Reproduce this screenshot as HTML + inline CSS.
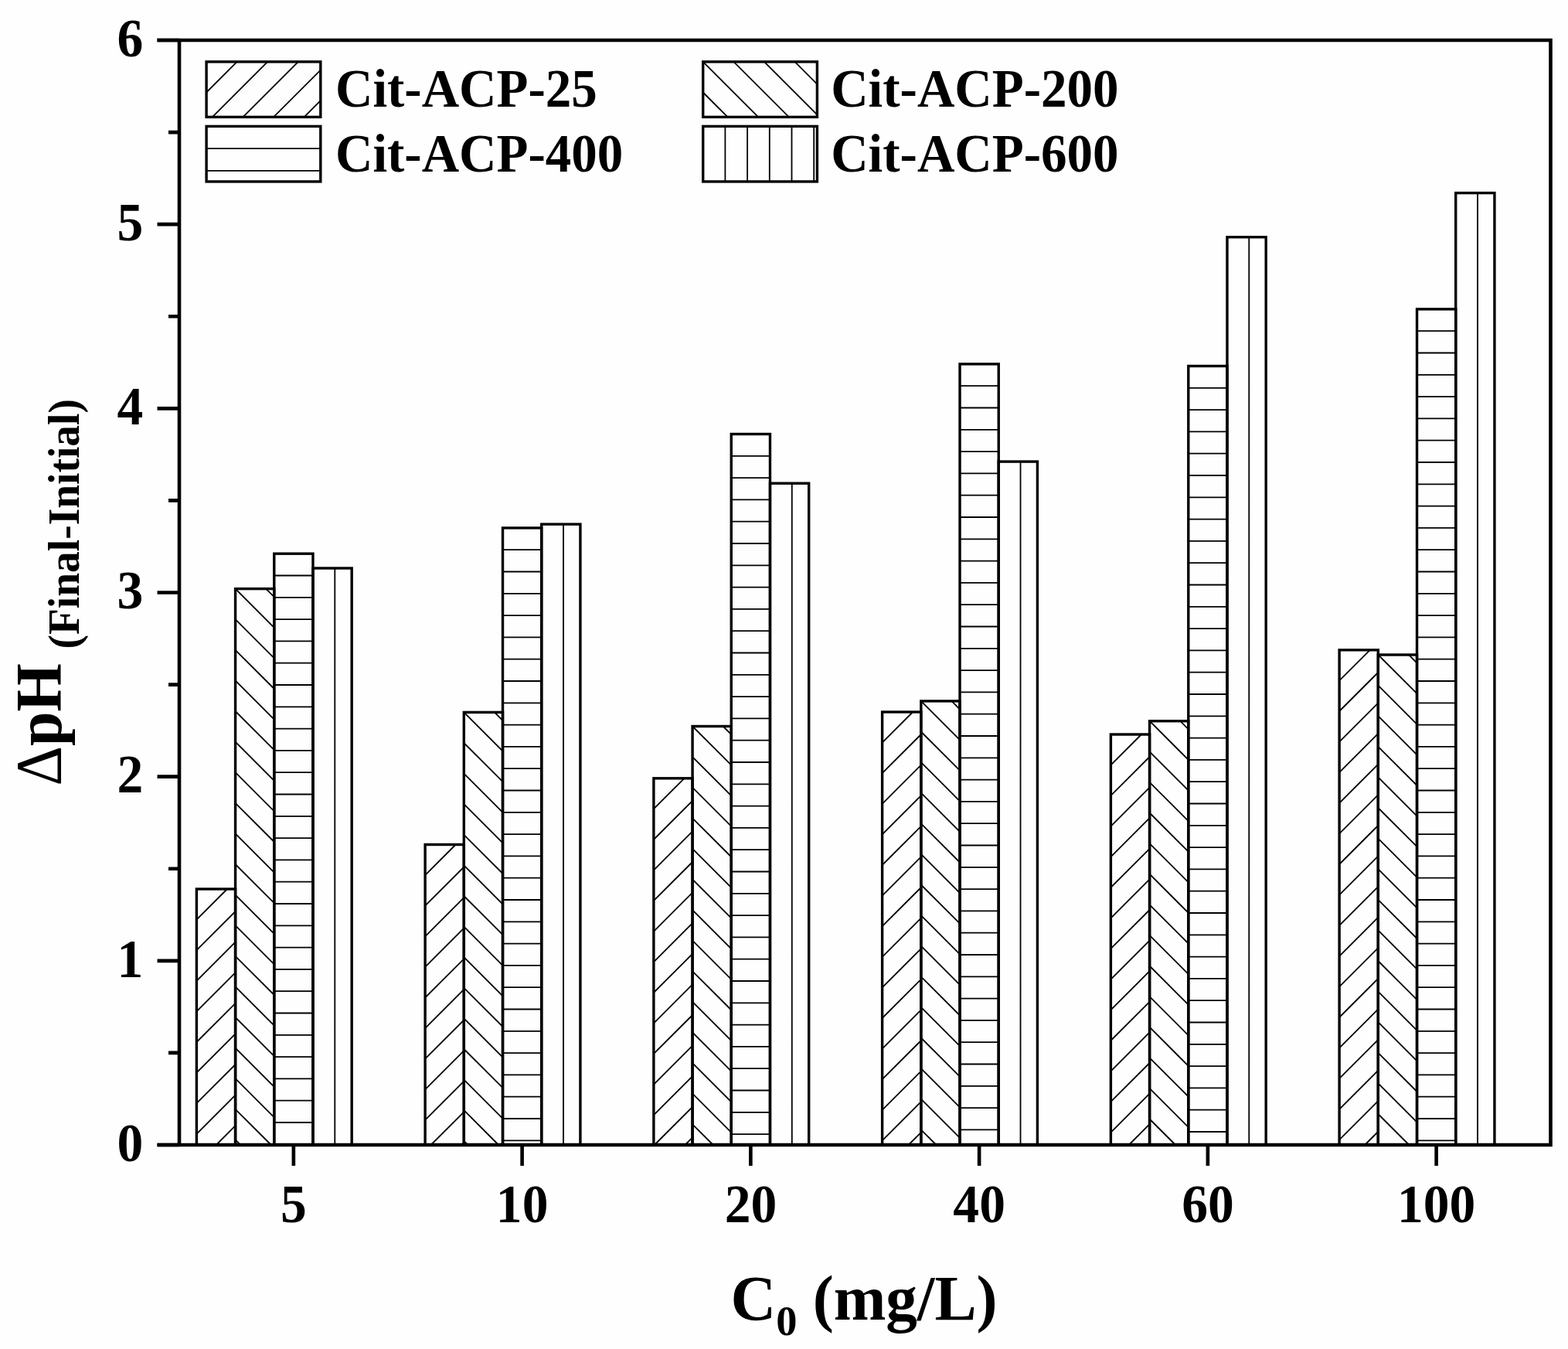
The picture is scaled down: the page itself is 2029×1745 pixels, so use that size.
<!DOCTYPE html>
<html><head><meta charset="utf-8"><title>Delta pH bar chart</title>
<style>html,body{margin:0;padding:0;background:#fff;}svg{display:block;}</style>
</head><body>
<svg width="2029" height="1745" viewBox="0 0 2029 1745">
<rect width="2029" height="1745" fill="#fefefe"/>
<g fill="none" stroke="#000" stroke-width="1.8" stroke-linecap="butt">
<path d="M254.38 1189.6L293.97 1150M254.38 1229.2L304.57 1179M254.38 1268.8L304.57 1218.6M254.38 1308.4L304.57 1258.2M254.38 1348L304.57 1297.8M254.38 1387.6L304.57 1337.4M254.38 1427.2L304.57 1377M254.38 1466.8L304.57 1416.6M279.78 1481L304.57 1456.2M344.18 761.6L354.77 772.2M304.57 761.6L354.77 811.8M304.57 801.2L354.77 851.4M304.57 840.8L354.77 891M304.57 880.4L354.77 930.6M304.57 920L354.77 970.2M304.57 959.6L354.77 1009.8M304.57 999.2L354.77 1049.4M304.57 1038.8L354.77 1089M304.57 1078.4L354.77 1128.6M304.57 1118L354.77 1168.2M304.57 1157.6L354.77 1207.8M304.57 1197.2L354.77 1247.4M304.57 1236.8L354.77 1287M304.57 1276.4L354.77 1326.6M304.57 1316L354.77 1366.2M304.57 1355.6L354.77 1405.8M304.57 1395.2L354.77 1445.4M304.57 1434.8L350.77 1481M304.57 1474.4L311.17 1481M354.77 744.5L404.97 744.5M354.77 772.8L404.97 772.8M354.77 801.1L404.97 801.1M354.77 829.4L404.97 829.4M354.77 857.7L404.97 857.7M354.77 886L404.97 886M354.77 914.3L404.97 914.3M354.77 942.6L404.97 942.6M354.77 970.9L404.97 970.9M354.77 999.2L404.97 999.2M354.77 1027.5L404.97 1027.5M354.77 1055.8L404.97 1055.8M354.77 1084.1L404.97 1084.1M354.77 1112.4L404.97 1112.4M354.77 1140.7L404.97 1140.7M354.77 1169L404.97 1169M354.77 1197.3L404.97 1197.3M354.77 1225.6L404.97 1225.6M354.77 1253.9L404.97 1253.9M354.77 1282.2L404.97 1282.2M354.77 1310.5L404.97 1310.5M354.77 1338.8L404.97 1338.8M354.77 1367.1L404.97 1367.1M354.77 1395.4L404.97 1395.4M354.77 1423.7L404.97 1423.7M354.77 1452L404.97 1452M433.28 735L433.28 1481M550.12 1132.1L589.72 1092.5M550.12 1171.7L600.33 1121.5M550.12 1211.3L600.33 1161.1M550.12 1250.9L600.33 1200.7M550.12 1290.5L600.33 1240.3M550.12 1330.1L600.33 1279.9M550.12 1369.7L600.33 1319.5M550.12 1409.3L600.33 1359.1M550.12 1448.9L600.33 1398.7M557.62 1481L600.33 1438.3M597.22 1481L600.33 1477.9M639.93 921.4L650.53 932M600.33 921.4L650.53 971.6M600.33 961L650.53 1011.2M600.33 1000.6L650.53 1050.8M600.33 1040.2L650.53 1090.4M600.33 1079.8L650.53 1130M600.33 1119.4L650.53 1169.6M600.33 1159L650.53 1209.2M600.33 1198.6L650.53 1248.8M600.33 1238.2L650.53 1288.4M600.33 1277.8L650.53 1328M600.33 1317.4L650.53 1367.6M600.33 1357L650.53 1407.2M600.33 1396.6L650.53 1446.8M600.33 1436.2L645.12 1481M600.33 1475.8L605.53 1481M650.52 711.2L700.73 711.2M650.52 739.5L700.73 739.5M650.52 767.8L700.73 767.8M650.52 796.1L700.73 796.1M650.52 824.4L700.73 824.4M650.52 852.7L700.73 852.7M650.52 881L700.73 881M650.52 909.3L700.73 909.3M650.52 937.6L700.73 937.6M650.52 965.9L700.73 965.9M650.52 994.2L700.73 994.2M650.52 1022.5L700.73 1022.5M650.52 1050.8L700.73 1050.8M650.52 1079.1L700.73 1079.1M650.52 1107.4L700.73 1107.4M650.52 1135.7L700.73 1135.7M650.52 1164L700.73 1164M650.52 1192.3L700.73 1192.3M650.52 1220.6L700.73 1220.6M650.52 1248.9L700.73 1248.9M650.52 1277.2L700.73 1277.2M650.52 1305.5L700.73 1305.5M650.52 1333.8L700.73 1333.8M650.52 1362.1L700.73 1362.1M650.52 1390.4L700.73 1390.4M650.52 1418.7L700.73 1418.7M650.52 1447L700.73 1447M650.52 1475.3L700.73 1475.3M729.02 678.1L729.02 1481M845.88 1046.4L885.47 1006.8M845.88 1086L896.08 1035.8M845.88 1125.6L896.08 1075.4M845.88 1165.2L896.08 1115M845.88 1204.8L896.08 1154.6M845.88 1244.4L896.08 1194.2M845.88 1284L896.08 1233.8M845.88 1323.6L896.08 1273.4M845.88 1363.2L896.08 1313M845.88 1402.8L896.08 1352.6M845.88 1442.4L896.08 1392.2M846.88 1481L896.08 1431.8M886.47 1481L896.08 1471.4M935.68 939.5L946.28 950.1M896.08 939.5L946.28 989.7M896.08 979.1L946.28 1029.3M896.08 1018.7L946.28 1068.9M896.08 1058.3L946.28 1108.5M896.08 1097.9L946.28 1148.1M896.08 1137.5L946.28 1187.7M896.08 1177.1L946.28 1227.3M896.08 1216.7L946.28 1266.9M896.08 1256.3L946.28 1306.5M896.08 1295.9L946.28 1346.1M896.08 1335.5L946.28 1385.7M896.08 1375.1L946.28 1425.3M896.08 1414.7L946.28 1464.9M896.08 1454.3L922.77 1481M946.27 589.8L996.48 589.8M946.27 618.1L996.48 618.1M946.27 646.4L996.48 646.4M946.27 674.7L996.48 674.7M946.27 703L996.48 703M946.27 731.3L996.48 731.3M946.27 759.6L996.48 759.6M946.27 787.9L996.48 787.9M946.27 816.2L996.48 816.2M946.27 844.5L996.48 844.5M946.27 872.8L996.48 872.8M946.27 901.1L996.48 901.1M946.27 929.4L996.48 929.4M946.27 957.7L996.48 957.7M946.27 986L996.48 986M946.27 1014.3L996.48 1014.3M946.27 1042.6L996.48 1042.6M946.27 1070.9L996.48 1070.9M946.27 1099.2L996.48 1099.2M946.27 1127.5L996.48 1127.5M946.27 1155.8L996.48 1155.8M946.27 1184.1L996.48 1184.1M946.27 1212.4L996.48 1212.4M946.27 1240.7L996.48 1240.7M946.27 1269L996.48 1269M946.27 1297.3L996.48 1297.3M946.27 1325.6L996.48 1325.6M946.27 1353.9L996.48 1353.9M946.27 1382.2L996.48 1382.2M946.27 1410.5L996.48 1410.5M946.27 1438.8L996.48 1438.8M946.27 1467.1L996.48 1467.1M1024.78 625.2L1024.78 1481M1141.62 960.6L1181.22 921M1141.62 1000.2L1191.83 950M1141.62 1039.8L1191.83 989.6M1141.62 1079.4L1191.83 1029.2M1141.62 1119L1191.83 1068.8M1141.62 1158.6L1191.83 1108.4M1141.62 1198.2L1191.83 1148M1141.62 1237.8L1191.83 1187.6M1141.62 1277.4L1191.83 1227.2M1141.62 1317L1191.83 1266.8M1141.62 1356.6L1191.83 1306.4M1141.62 1396.2L1191.83 1346M1141.62 1435.8L1191.83 1385.6M1141.62 1475.4L1191.83 1425.2M1175.62 1481L1191.83 1464.8M1231.43 906.9L1242.03 917.5M1191.83 906.9L1242.03 957.1M1191.83 946.5L1242.03 996.7M1191.83 986.1L1242.03 1036.3M1191.83 1025.7L1242.03 1075.9M1191.83 1065.3L1242.03 1115.5M1191.83 1104.9L1242.03 1155.1M1191.83 1144.5L1242.03 1194.7M1191.83 1184.1L1242.03 1234.3M1191.83 1223.7L1242.03 1273.9M1191.83 1263.3L1242.03 1313.5M1191.83 1302.9L1242.03 1353.1M1191.83 1342.5L1242.03 1392.7M1191.83 1382.1L1242.03 1432.3M1191.83 1421.7L1242.03 1471.9M1191.83 1461.3L1211.53 1481M1242.03 499.2L1292.23 499.2M1242.03 527.5L1292.23 527.5M1242.03 555.8L1292.23 555.8M1242.03 584.1L1292.23 584.1M1242.03 612.4L1292.23 612.4M1242.03 640.7L1292.23 640.7M1242.03 669L1292.23 669M1242.03 697.3L1292.23 697.3M1242.03 725.6L1292.23 725.6M1242.03 753.9L1292.23 753.9M1242.03 782.2L1292.23 782.2M1242.03 810.5L1292.23 810.5M1242.03 838.8L1292.23 838.8M1242.03 867.1L1292.23 867.1M1242.03 895.4L1292.23 895.4M1242.03 923.7L1292.23 923.7M1242.03 952L1292.23 952M1242.03 980.3L1292.23 980.3M1242.03 1008.6L1292.23 1008.6M1242.03 1036.9L1292.23 1036.9M1242.03 1065.2L1292.23 1065.2M1242.03 1093.5L1292.23 1093.5M1242.03 1121.8L1292.23 1121.8M1242.03 1150.1L1292.23 1150.1M1242.03 1178.4L1292.23 1178.4M1242.03 1206.7L1292.23 1206.7M1242.03 1235L1292.23 1235M1242.03 1263.3L1292.23 1263.3M1242.03 1291.6L1292.23 1291.6M1242.03 1319.9L1292.23 1319.9M1242.03 1348.2L1292.23 1348.2M1242.03 1376.5L1292.23 1376.5M1242.03 1404.8L1292.23 1404.8M1242.03 1433.1L1292.23 1433.1M1242.03 1461.4L1292.23 1461.4M1320.52 597.1L1320.52 1481M1437.38 989.6L1476.97 950M1437.38 1029.2L1487.58 979M1437.38 1068.8L1487.58 1018.6M1437.38 1108.4L1487.58 1058.2M1437.38 1148L1487.58 1097.8M1437.38 1187.6L1487.58 1137.4M1437.38 1227.2L1487.58 1177M1437.38 1266.8L1487.58 1216.6M1437.38 1306.4L1487.58 1256.2M1437.38 1346L1487.58 1295.8M1437.38 1385.6L1487.58 1335.4M1437.38 1425.2L1487.58 1375M1437.38 1464.8L1487.58 1414.6M1460.78 1481L1487.58 1454.2M1527.18 932.7L1537.78 943.3M1487.58 932.7L1537.78 982.9M1487.58 972.3L1537.78 1022.5M1487.58 1011.9L1537.78 1062.1M1487.58 1051.5L1537.78 1101.7M1487.58 1091.1L1537.78 1141.3M1487.58 1130.7L1537.78 1180.9M1487.58 1170.3L1537.78 1220.5M1487.58 1209.9L1537.78 1260.1M1487.58 1249.5L1537.78 1299.7M1487.58 1289.1L1537.78 1339.3M1487.58 1328.7L1537.78 1378.9M1487.58 1368.3L1537.78 1418.5M1487.58 1407.9L1537.78 1458.1M1487.58 1447.5L1521.07 1481M1537.78 501.8L1587.98 501.8M1537.78 530.1L1587.98 530.1M1537.78 558.4L1587.98 558.4M1537.78 586.7L1587.98 586.7M1537.78 615L1587.98 615M1537.78 643.3L1587.98 643.3M1537.78 671.6L1587.98 671.6M1537.78 699.9L1587.98 699.9M1537.78 728.2L1587.98 728.2M1537.78 756.5L1587.98 756.5M1537.78 784.8L1587.98 784.8M1537.78 813.1L1587.98 813.1M1537.78 841.4L1587.98 841.4M1537.78 869.7L1587.98 869.7M1537.78 898L1587.98 898M1537.78 926.3L1587.98 926.3M1537.78 954.6L1587.98 954.6M1537.78 982.9L1587.98 982.9M1537.78 1011.2L1587.98 1011.2M1537.78 1039.5L1587.98 1039.5M1537.78 1067.8L1587.98 1067.8M1537.78 1096.1L1587.98 1096.1M1537.78 1124.4L1587.98 1124.4M1537.78 1152.7L1587.98 1152.7M1537.78 1181L1587.98 1181M1537.78 1209.3L1587.98 1209.3M1537.78 1237.6L1587.98 1237.6M1537.78 1265.9L1587.98 1265.9M1537.78 1294.2L1587.98 1294.2M1537.78 1322.5L1587.98 1322.5M1537.78 1350.8L1587.98 1350.8M1537.78 1379.1L1587.98 1379.1M1537.78 1407.4L1587.98 1407.4M1537.78 1435.7L1587.98 1435.7M1537.78 1464L1587.98 1464M1616.27 306.7L1616.27 1481M1733.12 880.4L1772.73 840.8M1733.12 920L1783.33 869.8M1733.12 959.6L1783.33 909.4M1733.12 999.2L1783.33 949M1733.12 1038.8L1783.33 988.6M1733.12 1078.4L1783.33 1028.2M1733.12 1118L1783.33 1067.8M1733.12 1157.6L1783.33 1107.4M1733.12 1197.2L1783.33 1147M1733.12 1236.8L1783.33 1186.6M1733.12 1276.4L1783.33 1226.2M1733.12 1316L1783.33 1265.8M1733.12 1355.6L1783.33 1305.4M1733.12 1395.2L1783.33 1345M1733.12 1434.8L1783.33 1384.6M1733.12 1474.4L1783.33 1424.2M1766.12 1481L1783.33 1463.8M1822.93 847L1833.53 857.6M1783.33 847L1833.53 897.2M1783.33 886.6L1833.53 936.8M1783.33 926.2L1833.53 976.4M1783.33 965.8L1833.53 1016M1783.33 1005.4L1833.53 1055.6M1783.33 1045L1833.53 1095.2M1783.33 1084.6L1833.53 1134.8M1783.33 1124.2L1833.53 1174.4M1783.33 1163.8L1833.53 1214M1783.33 1203.4L1833.53 1253.6M1783.33 1243L1833.53 1293.2M1783.33 1282.6L1833.53 1332.8M1783.33 1322.2L1833.53 1372.4M1783.33 1361.8L1833.53 1412M1783.33 1401.4L1833.53 1451.6M1783.33 1441L1823.33 1481M1833.53 428.2L1883.73 428.2M1833.53 456.5L1883.73 456.5M1833.53 484.8L1883.73 484.8M1833.53 513.1L1883.73 513.1M1833.53 541.4L1883.73 541.4M1833.53 569.7L1883.73 569.7M1833.53 598L1883.73 598M1833.53 626.3L1883.73 626.3M1833.53 654.6L1883.73 654.6M1833.53 682.9L1883.73 682.9M1833.53 711.2L1883.73 711.2M1833.53 739.5L1883.73 739.5M1833.53 767.8L1883.73 767.8M1833.53 796.1L1883.73 796.1M1833.53 824.4L1883.73 824.4M1833.53 852.7L1883.73 852.7M1833.53 881L1883.73 881M1833.53 909.3L1883.73 909.3M1833.53 937.6L1883.73 937.6M1833.53 965.9L1883.73 965.9M1833.53 994.2L1883.73 994.2M1833.53 1022.5L1883.73 1022.5M1833.53 1050.8L1883.73 1050.8M1833.53 1079.1L1883.73 1079.1M1833.53 1107.4L1883.73 1107.4M1833.53 1135.7L1883.73 1135.7M1833.53 1164L1883.73 1164M1833.53 1192.3L1883.73 1192.3M1833.53 1220.6L1883.73 1220.6M1833.53 1248.9L1883.73 1248.9M1833.53 1277.2L1883.73 1277.2M1833.53 1305.5L1883.73 1305.5M1833.53 1333.8L1883.73 1333.8M1833.53 1362.1L1883.73 1362.1M1833.53 1390.4L1883.73 1390.4M1833.53 1418.7L1883.73 1418.7M1833.53 1447L1883.73 1447M1833.53 1475.3L1883.73 1475.3M1912.02 249.6L1912.02 1481M267.1 119.5L306.7 79.9M274.8 151.4L346.3 79.9M314.4 151.4L385.9 79.9M354 151.4L414.8 90.6M393.6 151.4L414.8 130.2M1028.5 79.9L1057.4 108.8M988.9 79.9L1057.4 148.4M949.3 79.9L1020.8 151.4M909.7 79.9L981.2 151.4M909.7 119.5L941.6 151.4M267.1 192.1L414.8 192.1M267.1 220.8L414.8 220.8M938.4 163.4L938.4 234.9M967.1 163.4L967.1 234.9M995.8 163.4L995.8 234.9M1024.5 163.4L1024.5 234.9M1053.2 163.4L1053.2 234.9"/>
</g>
<g fill="none" stroke="#000" stroke-width="3.4" stroke-linejoin="miter">
<rect x="254.38" y="1150" width="50.2" height="331"/><rect x="304.57" y="761.6" width="50.2" height="719.4"/><rect x="354.77" y="716.2" width="50.2" height="764.8"/><rect x="404.98" y="735" width="50.2" height="746"/><rect x="550.12" y="1092.5" width="50.2" height="388.5"/><rect x="600.33" y="921.4" width="50.2" height="559.6"/><rect x="650.52" y="682.9" width="50.2" height="798.1"/><rect x="700.73" y="678.1" width="50.2" height="802.9"/><rect x="845.88" y="1006.8" width="50.2" height="474.2"/><rect x="896.08" y="939.5" width="50.2" height="541.5"/><rect x="946.27" y="561.5" width="50.2" height="919.5"/><rect x="996.48" y="625.2" width="50.2" height="855.8"/><rect x="1141.62" y="921" width="50.2" height="560"/><rect x="1191.83" y="906.9" width="50.2" height="574.1"/><rect x="1242.03" y="470.9" width="50.2" height="1010.1"/><rect x="1292.22" y="597.1" width="50.2" height="883.9"/><rect x="1437.38" y="950" width="50.2" height="531"/><rect x="1487.58" y="932.7" width="50.2" height="548.3"/><rect x="1537.78" y="473.5" width="50.2" height="1007.5"/><rect x="1587.97" y="306.7" width="50.2" height="1174.3"/><rect x="1733.12" y="840.8" width="50.2" height="640.2"/><rect x="1783.33" y="847" width="50.2" height="634"/><rect x="1833.53" y="399.9" width="50.2" height="1081.1"/><rect x="1883.72" y="249.6" width="50.2" height="1231.4"/>
<rect x="267.1" y="79.9" width="147.7" height="71.5"/><rect x="909.7" y="79.9" width="147.7" height="71.5"/><rect x="267.1" y="163.4" width="147.7" height="71.5"/><rect x="909.7" y="163.4" width="147.7" height="71.5"/>
</g>
<g fill="none" stroke="#000" stroke-width="4.6" stroke-linecap="butt">
<path d="M203.5 52H2006.5V1481H203.5"/>
<path d="M232 52V1481"/>
<path d="M203.5 1481H232M203.5 1242.83H232M203.5 1004.67H232M203.5 766.5H232M203.5 528.33H232M203.5 290.17H232M203.5 52H232M218 1361.92H232M218 1123.75H232M218 885.58H232M218 647.42H232M218 409.25H232M218 171.08H232M379.88 1481V1508M675.62 1481V1508M971.38 1481V1508M1267.12 1481V1508M1562.88 1481V1508M1858.62 1481V1508"/>
</g>
<g font-family="'Liberation Serif', 'Times New Roman', serif" font-weight="bold" fill="#000">
<g font-size="70.5" text-anchor="end"><text transform="translate(185.3 1501.7) scale(0.958 1)">0</text><text transform="translate(185.3 1263.53) scale(0.958 1)">1</text><text transform="translate(185.3 1025.37) scale(0.958 1)">2</text><text transform="translate(185.3 787.2) scale(0.958 1)">3</text><text transform="translate(185.3 549.03) scale(0.958 1)">4</text><text transform="translate(185.3 310.87) scale(0.958 1)">5</text><text transform="translate(185.3 72.7) scale(0.958 1)">6</text></g>
<g font-size="70.5" text-anchor="middle"><text transform="translate(379.88 1581) scale(0.958 1)">5</text><text transform="translate(675.62 1581) scale(0.958 1)">10</text><text transform="translate(971.38 1581) scale(0.958 1)">20</text><text transform="translate(1267.12 1581) scale(0.958 1)">40</text><text transform="translate(1562.88 1581) scale(0.958 1)">60</text><text transform="translate(1858.62 1581) scale(0.958 1)">100</text></g>
<g font-size="70"><text transform="translate(434 138) scale(0.958 1)">Cit-ACP-25</text><text transform="translate(1075.2 138) scale(0.958 1)">Cit-ACP-200</text><text transform="translate(434 221.8) scale(0.958 1)">Cit-ACP-400</text><text transform="translate(1075.2 221.8) scale(0.958 1)">Cit-ACP-600</text></g>
<text transform="translate(945.5 1707) scale(0.99 1)" font-size="82">C<tspan font-size="55" dy="20">0</tspan><tspan dy="-20"> (mg/L)</tspan></text>
<text transform="translate(79 1016.5) rotate(-90) scale(0.953 1)" font-size="84"><tspan font-weight="normal">&#916;</tspan>pH</text>
<text transform="translate(101.5 839.5) rotate(-90) scale(0.99 1)" font-size="56">(Final-Initial)</text>
</g>
</svg>
</body></html>
